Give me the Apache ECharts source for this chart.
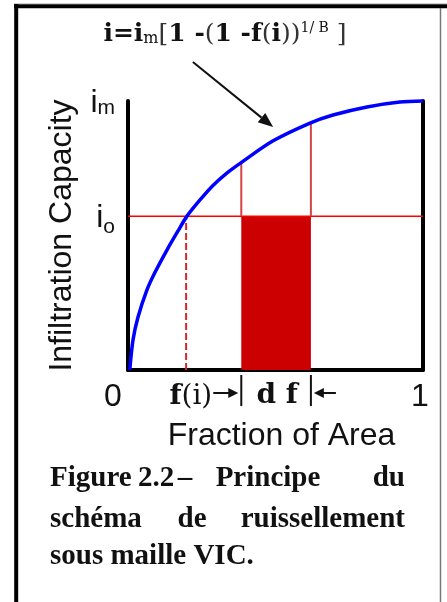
<!DOCTYPE html>
<html><head><meta charset="utf-8">
<script src="https://cdn.jsdelivr.net/npm/echarts@6/dist/echarts.min.js"></script>
<style>html,body{margin:0;padding:0;background:#fff}#c{width:447px;height:602px}</style>
</head><body><div id="c"></div>
<script>
// ---- data ----
const curveF = [0.006, 0.017, 0.034, 0.064, 0.092, 0.132, 0.169, 0.200, 0.244, 0.288, 0.336, 0.386, 0.492, 0.617, 0.695, 0.810, 0.922, 1.000];
const curveI = [0.000, 0.112, 0.197, 0.297, 0.364, 0.446, 0.516, 0.572, 0.632, 0.686, 0.733, 0.773, 0.852, 0.918, 0.948, 0.978, 0.996, 1.000];
const xTickValues = [0, 1];
const xTickLabels = ['0', '1'];
const yTickValues = [0.572, 1];
const yTickSubs = ['o', 'm'];
const i0 = 0.572;
const fI = 0.197;
const dfRange = [0.384, 0.620];
const dfTopI = [0.773, 0.918];
const arrowFrom = [0.22, 1.145];
const arrowTo = [0.492, 0.903];
const xName = 'Fraction of Area';
const yName = 'Infiltration Capacity';
const captionLines = [
  ['Figure', '2.2', '–', 'Principe', 'du'],
  ['schéma', 'de', 'ruissellement'],
  ['sous maille VIC.']
];

const chart = echarts.init(document.getElementById('c'), null, {renderer: 'canvas'});
const sans = 'Liberation Sans';
const txt = '#111';

chart.setOption({
  animation: false,
  grid: {left: 128, right: 24, top: 101, bottom: 232, containLabel: false},
  xAxis: {
    type: 'value', min: 0, max: 1, interval: 1,
    axisLine: {lineStyle: {color: '#000', width: 4}},
    axisTick: {show: false}, splitLine: {show: false},
    axisLabel: {
      margin: 11, color: txt, fontFamily: sans, fontSize: 32,
      formatter: v => { const k = xTickValues.indexOf(v); return k === 0 ? '{z|' + xTickLabels[k] + '}' : '{o|' + xTickLabels[k] + '}'; },
      rich: {z: {fontFamily: sans, fontSize: 32, color: txt, padding: [0, 30, 0, 0]},
             o: {fontFamily: sans, fontSize: 32, color: txt, padding: [0, 6, 0, 0]}}
    },
    name: xName, nameLocation: 'middle', nameGap: 50,
    nameTextStyle: {fontFamily: sans, fontSize: 32, color: txt, padding: [0, 0, 0, 12]}
  },
  yAxis: [{
    type: 'value', min: 0, max: 1, position: 'left',
    axisLine: {lineStyle: {color: '#000', width: 4}},
    axisTick: {show: false}, splitLine: {show: false},
    axisLabel: {
      customValues: yTickValues, margin: 13,
      formatter: v => { const k = yTickValues.indexOf(v); return k === 1 ? '{i|i}{m|' + yTickSubs[k] + '}' : '{i|i}{s|' + yTickSubs[k] + '}'; },
      rich: {
        i: {fontFamily: sans, fontSize: 32, color: txt, padding: [4, 0, 0, 0]},
        m: {fontFamily: sans, fontSize: 21, color: txt, verticalAlign: 'bottom'},
        s: {fontFamily: sans, fontSize: 21, color: txt, verticalAlign: 'bottom', padding: [0, 0, -4, 0]}
      }
    },
    name: yName, nameLocation: 'middle', nameGap: 50,
    nameTextStyle: {fontFamily: sans, fontSize: 32, color: txt}
  }, {
    type: 'value', min: 0, max: 1, position: 'right',
    axisLine: {show: true, lineStyle: {color: '#000', width: 4}},
    axisTick: {show: false}, splitLine: {show: false}, axisLabel: {show: false}
  }],
  series: [
    {type: 'line', symbol: 'none', data: [[dfRange[0], i0], [dfRange[1], i0]],
     lineStyle: {width: 0}, areaStyle: {color: '#cc0000', opacity: 1, origin: 'start'}, z: 1},
    {type: 'line', symbol: 'none', data: [[0, i0], [1, i0]], lineStyle: {color: '#ff0000', width: 1.5}, z: 2},
    {type: 'line', symbol: 'none', data: [[fI, 0], [fI, i0]], lineStyle: {color: '#d42a2a', width: 2, type: [7, 3]}, z: 2},
    {type: 'line', symbol: 'none', data: [[dfRange[0], i0], [dfRange[0], dfTopI[0]]], lineStyle: {color: '#d44444', width: 2}, z: 2},
    {type: 'line', symbol: 'none', data: [[dfRange[1], i0], [dfRange[1], dfTopI[1]]], lineStyle: {color: '#d44444', width: 2}, z: 2},
    {type: 'line', symbol: 'none', smooth: 0.3, data: curveF.map((f, k) => [f, curveI[k]]),
     lineStyle: {color: '#0000ff', width: 3.5}, z: 3, clip: false}
  ]
});

const P = p => chart.convertToPixel({gridIndex: 0}, p);
const a0 = P(arrowFrom), a1 = P(arrowTo);
const ang = Math.atan2(a1[1] - a0[1], a1[0] - a0[0]);
const hl = 15, hw = 6;
const bx = a1[0] - hl * Math.cos(ang), by = a1[1] - hl * Math.sin(ang);
const head = [[a1[0], a1[1]], [bx + hw * Math.sin(ang), by - hw * Math.cos(ang)], [bx - hw * Math.sin(ang), by + hw * Math.cos(ang)]];

const xs = P([dfRange[0], 0])[0], xe = P([dfRange[1], 0])[0];
const yb = P([0, 0])[1];
const ser = 'DejaVu Serif';
const graphics = [
  // frame
  {type: 'line', shape: {x1: 14, y1: 3.5, x2: 447, y2: 3.5}, style: {stroke: '#cfcfcf', lineWidth: 1}},
  {type: 'line', shape: {x1: 14, y1: 6.2, x2: 447, y2: 6.2}, style: {stroke: '#000', lineWidth: 4}},
  {type: 'line', shape: {x1: 16.2, y1: 4, x2: 16.2, y2: 602}, style: {stroke: '#000', lineWidth: 4}},
  {type: 'line', shape: {x1: 440.5, y1: 8, x2: 440.5, y2: 602}, style: {stroke: '#777', lineWidth: 1.5}},
  // formula
  {type: 'text', style: {x: 225, y: 34, align: 'center', verticalAlign: 'middle',
    text: '{b|i=i}{s|m}{r|[}{b|1 -}{r|(}{b|1 -f}{r|(}{b|i}{r|))}{p|1/ B}{r| ]}',
    rich: {
      b: {fontFamily: ser, fontWeight: 'bold', fontSize: 25, fill: txt},
      r: {fontFamily: ser, fontSize: 25, fill: '#333'},
      s: {fontFamily: ser, fontSize: 16, fill: txt, verticalAlign: 'bottom'},
      p: {fontFamily: ser, fontSize: 14, fill: txt, verticalAlign: 'top'}
    }}},
  // arrow
  {type: 'line', shape: {x1: a0[0], y1: a0[1], x2: bx, y2: by}, style: {stroke: '#111', lineWidth: 2}},
  {type: 'polygon', shape: {points: head}, style: {fill: '#111'}},
  // f(i) -> | df | <-
  {type: 'text', style: {x: xs - 29, y: yb + 27, align: 'right', verticalAlign: 'middle',
    text: '{b|f}{r|(i)}',
    rich: {b: {fontFamily: ser, fontWeight: 'bold', fontSize: 28, fill: txt}, r: {fontFamily: ser, fontSize: 28, fill: txt}}}},
  {type: 'line', shape: {x1: xs - 28, y1: yb + 23, x2: xs - 10, y2: yb + 23}, style: {stroke: '#111', lineWidth: 2}},
  {type: 'polygon', shape: {points: [[xs - 3, yb + 23], [xs - 13, yb + 18], [xs - 13, yb + 28]]}, style: {fill: '#111'}},
  {type: 'line', shape: {x1: xs, y1: yb + 5, x2: xs, y2: yb + 36}, style: {stroke: '#111', lineWidth: 2}},
  {type: 'text', style: {x: (xs + xe) / 2 + 1, y: yb + 26, align: 'center', verticalAlign: 'middle',
    text: 'd f', font: 'bold 28px "DejaVu Serif"', fill: txt}},
  {type: 'line', shape: {x1: xe, y1: yb + 5, x2: xe, y2: yb + 36}, style: {stroke: '#111', lineWidth: 2}},
  {type: 'polygon', shape: {points: [[xe + 3, yb + 23], [xe + 13, yb + 18], [xe + 13, yb + 28]]}, style: {fill: '#111'}},
  {type: 'line', shape: {x1: xe + 10, y1: yb + 23, x2: xe + 25, y2: yb + 23}, style: {stroke: '#111', lineWidth: 2}}
];

// caption words (justified: first word left, last word right, middle words by centre)
const capFont = 'bold 29px "Liberation Serif"';
const capY = [479, 520, 557];
const capX = [[50, 156, 185, 268, 405], [50, 192, 405], [50]];
captionLines.forEach((words, li) => {
  words.forEach((w, wi) => {
    const n = words.length;
    const align = (wi === 0) ? 'left' : (wi === n - 1 ? 'right' : 'center');
    graphics.push({type: 'text', style: {x: capX[li][wi], y: capY[li], text: w, font: capFont, fill: txt,
      align: align, verticalAlign: 'middle'}});
  });
});

chart.setOption({graphic: graphics});
</script>
</body></html>
